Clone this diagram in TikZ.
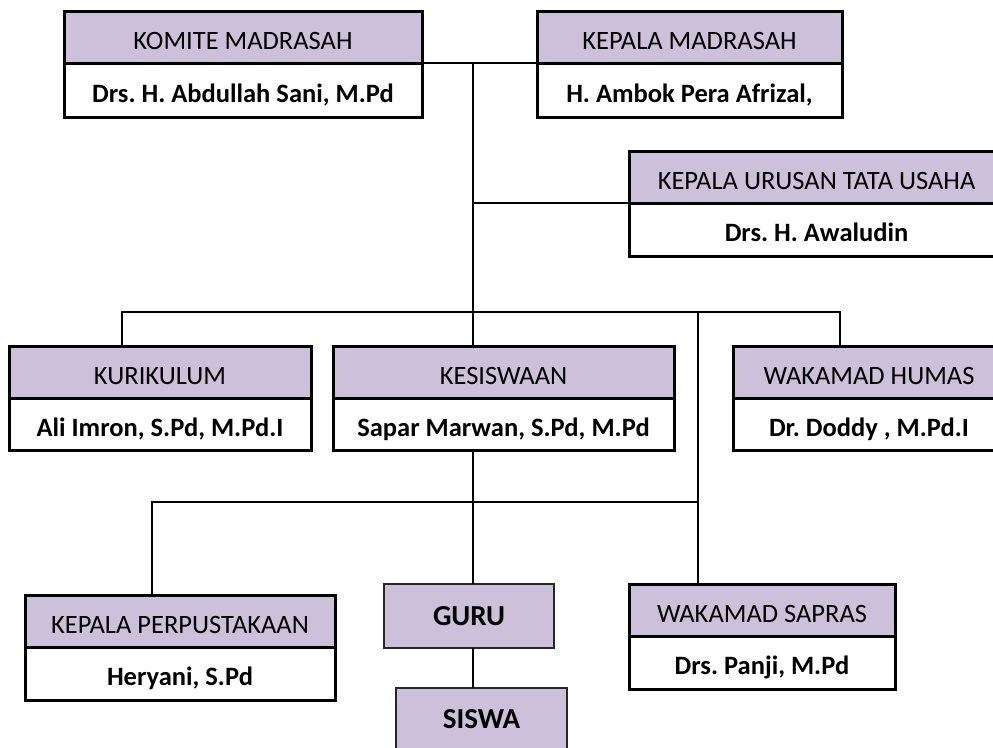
\documentclass[tikz,border=0pt]{standalone}
\usepackage{fontspec}
\setmainfont{Carlito}
\frenchspacing
\definecolor{lav}{HTML}{CCC0DA}
\begin{document}
\begin{tikzpicture}[x=1pt,y=-1pt,
  hdr/.style={draw=black, line width=3pt, fill=lav, inner sep=0pt, outer sep=0pt, anchor=north west,
    text height=24pt, text depth=0pt, font=\fontsize{26.5}{31}\selectfont},
  nme/.style={draw=black, line width=3pt, fill=white, inner sep=0pt, outer sep=0pt, anchor=north west,
    text height=24pt, text depth=0pt, font=\fontsize{26.5}{31}\selectfont\bfseries},
  single/.style={draw=black!85, line width=1.8pt, fill=lav, inner sep=0pt, outer sep=0pt, anchor=north west,
    font=\fontsize{29}{33}\selectfont\bfseries},
  conn/.style={draw=black, line width=2.9pt}]
\useasboundingbox (0,0) rectangle (993,747);
\clip (0,0) rectangle (993,747);
\fill[white] (0,0) rectangle (993,747);

% coordinates of connector bends
\coordinate (t0) at (473,63);
\coordinate (t1) at (473,203);
\coordinate (b1) at (122,312);
\coordinate (b2) at (840,312);
\coordinate (b3) at (698,312);
\coordinate (p1) at (152,502);

% boxes
\node[hdr, minimum width=358pt, minimum height=52pt] (komH) at (64,11) {KOMITE MADRASAH};
\node[nme, minimum width=358pt, minimum height=54pt] (komN) at (komH.south west) {Drs. H. Abdullah Sani, M.Pd};

\node[hdr, minimum width=305pt, minimum height=52pt] (kepH) at (537,11) {KEPALA MADRASAH};
\node[nme, minimum width=305pt, minimum height=54pt] (kepN) at (kepH.south west) {H. Ambok Pera Afrizal,};

\node[hdr, minimum width=375pt, minimum height=52pt] (tuH) at (629,151) {KEPALA URUSAN TATA USAHA};
\node[nme, minimum width=375pt, minimum height=53pt] (tuN) at (tuH.south west) {Drs. H. Awaludin};

\node[hdr, minimum width=302pt, minimum height=52pt] (kurH) at (9,346) {KURIKULUM};
\node[nme, minimum width=302pt, minimum height=52pt] (kurN) at (kurH.south west) {Ali Imron, S.Pd, M.Pd.I};

\node[hdr, minimum width=341pt, minimum height=52pt] (kesH) at (333,346) {KESISWAAN};
\node[nme, minimum width=341pt, minimum height=52pt] (kesN) at (kesH.south west) {Sapar Marwan, S.Pd, M.Pd};

\node[hdr, minimum width=272pt, minimum height=52pt] (humH) at (733,346) {WAKAMAD HUMAS};
\node[nme, minimum width=272pt, minimum height=52pt] (humN) at (humH.south west) {Dr. Doddy , M.Pd.I};

\node[hdr, minimum width=310pt, minimum height=52pt] (perH) at (25,595) {KEPALA PERPUSTAKAAN};
\node[nme, minimum width=310pt, minimum height=53pt] (perN) at (perH.south west) {Heryani, S.Pd};

\node[hdr, minimum width=266pt, minimum height=52pt] (sapH) at (629,584) {WAKAMAD SAPRAS};
\node[nme, minimum width=266pt, minimum height=53pt] (sapN) at (sapH.south west) {Drs. Panji, M.Pd};

\node[single, minimum width=170pt, minimum height=64pt] (guru) at (384,584) {GURU};
\node[single, minimum width=171pt, minimum height=62pt] (siswa) at (396,688) {SISWA};

% connectors
\draw[conn] (komH.south east) -- (kepH.south west);
\draw[conn] (t0) -- (t0 |- kesH.north);
\draw[conn] (t1) -- (tuH.south west);
\draw[conn] (b1 |- kurH.north) -- (b1) -- (b2) -- (b2 |- humH.north);
\draw[conn] (b3) -- (b3 |- sapH.north);
\draw[conn] (p1 |- perH.north) -- (p1) -- (p1 -| b3);
\draw[conn] (t0 |- kesN.south) -- (t0 |- guru.north);
\draw[conn] (t0 |- guru.south) -- (t0 |- siswa.north);
\end{tikzpicture}
\end{document}
